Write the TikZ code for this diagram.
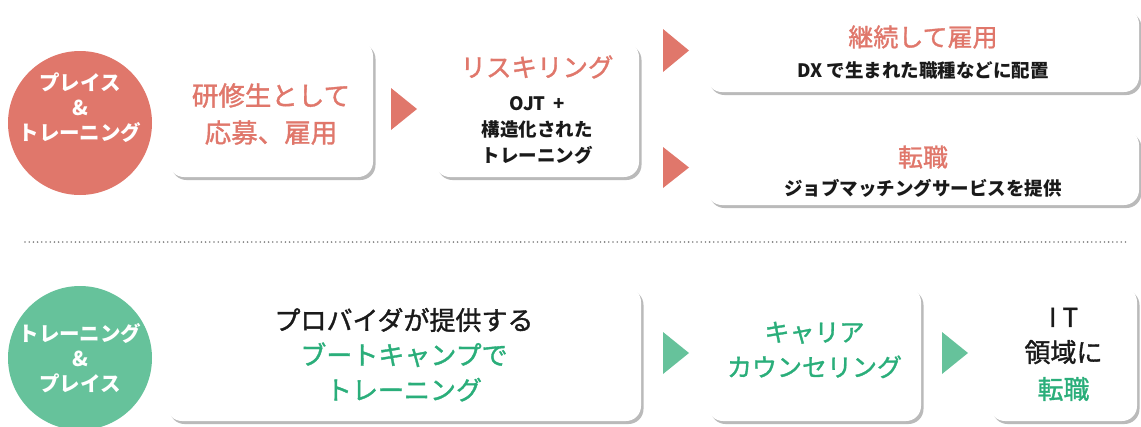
\documentclass[tikz,border=0pt]{standalone}
\usepackage{fontspec}
\setmainfont{Noto Sans CJK JP}
\newfontfamily\medfont[FakeBold=1.3]{Noto Sans CJK JP}
\usetikzlibrary{shadows}
\definecolor{redc}{HTML}{E0776B}
\definecolor{greenc}{HTML}{66C29B}
\definecolor{greent}{HTML}{2AAE7A}
\definecolor{txt}{HTML}{1A1A1A}
\tikzset{
  card/.style={draw=none, fill=white, rounded corners=15pt, inner sep=0pt,
    drop shadow={shadow xshift=2.5pt, shadow yshift=-3pt, fill=black!45, opacity=0.6}},
  badge/.style={circle, inner sep=0pt, minimum size=144pt},
  badgetxt/.style={text=white, font=\bfseries\fontsize{20.5}{25}\selectfont, align=center},
  bigred/.style={text=redc, font=\medfont\fontsize{26}{35}\selectfont, align=center},
  biggreen/.style={text=greent, font=\medfont\fontsize{25}{35}\selectfont, align=center},
  bigblack/.style={text=txt, font=\medfont\fontsize{26}{35}\selectfont, align=center},
  small/.style={text=txt, font=\bfseries\fontsize{18.5}{26}\selectfont, align=center},
}
\begin{document}
\begin{tikzpicture}[x=1pt,y=-1pt]
\useasboundingbox (0,0) rectangle (1141,426);
% badges
\node[badge, fill=redc] (c1) at (80,123) {};
\node[badgetxt] (c1t) at (80,108) {プレイス\\\&\\トレーニング};
\node[badge, fill=greenc] (c2) at (80,358) {};
\node[badgetxt] (c2t) at (80,358) {トレーニング\\\&\\プレイス};
% top row cards
\node[card, minimum width=204pt, minimum height=136pt] (b1) at (271,109) {};
\node[bigred, font=\medfont\fontsize{26.5}{37}\selectfont] (b1t) at (271,114) {研修生として\\応募、雇用};
\node[card, minimum width=204pt, minimum height=135pt] (b2) at (537,109.5) {};
\node[bigred, font=\medfont\fontsize{25.5}{30}\selectfont] (b2t) at (537,67) {リスキリング};
\node[small] (b2s) at (537,130) {OJT\hspace{3pt} +\\構造化された\\トレーニング};
\node[card, minimum width=432pt, minimum height=83pt] (b3) at (923,50.5) {};
\node[bigred, font=\medfont\fontsize{25}{30}\selectfont] (b3t) at (923,37) {継続して雇用};
\node[small] (b3s) at (923,70) {DX で生まれた職種などに配置};
\node[card, minimum width=432pt, minimum height=75pt] (b4) at (923,167.5) {};
\node[bigred, font=\medfont\fontsize{25}{30}\selectfont] (b4t) at (923,157) {転職};
\node[small] (b4s) at (923,188) {ジョブマッチングサービスを提供};
% top arrows
\fill[redc] (391,88) -- (417,109) -- (391,130) -- cycle;
\fill[redc] (663,29) -- (689,50.5) -- (663,72) -- cycle;
\fill[redc] (663,147) -- (689,167.5) -- (663,188) -- cycle;
% separator
\coordinate (sepL) at (25,242);
\coordinate (sepR) at (1127,242);
\draw[black!50, line width=1.8pt, line cap=round, dash pattern=on 0pt off 4.2pt] (sepL) -- (sepR);
% bottom row
\node[card, minimum width=474pt, minimum height=134pt] (b5) at (404,354) {};
\node[bigblack] (b5a) at (404,320) {プロバイダが提供する};
\node[biggreen, font=\medfont\fontsize{26}{35}\selectfont] (b5b) at (404,372) {ブートキャンプで\\トレーニング};
\node[card, minimum width=213pt, minimum height=134pt] (b6) at (814.5,354) {};
\node[biggreen] (b6t) at (814.5,350) {キャリア\\カウンセリング};
\node[card, minimum width=147pt, minimum height=134pt] (b7) at (1063.5,354) {};
\node[bigblack, font=\medfont\fontsize{26}{35}\selectfont] (b7a) at (1063.5,336) {I\hspace{6pt}T\\領域に};
\node[biggreen, font=\medfont\fontsize{26}{35}\selectfont] (b7b) at (1063.5,389) {転職};
\fill[greenc] (663,332) -- (689,353) -- (663,374) -- cycle;
\fill[greenc] (942,332) -- (968,353) -- (942,374) -- cycle;
\end{tikzpicture}
\end{document}
